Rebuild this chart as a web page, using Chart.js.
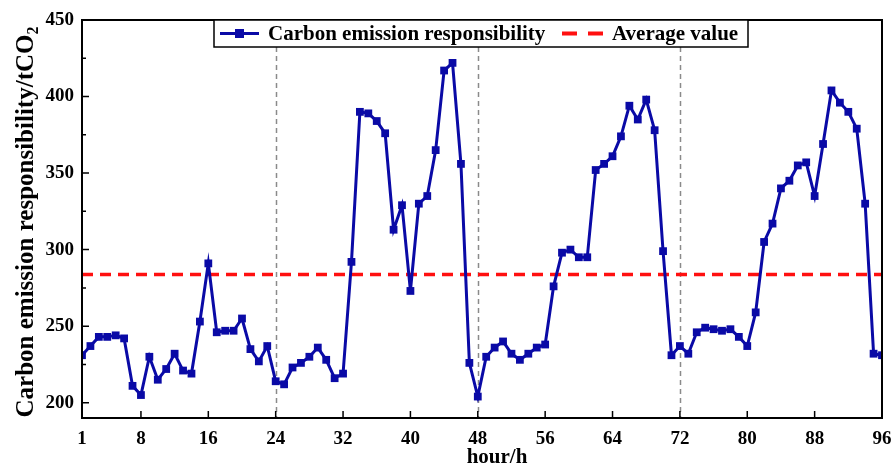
<!DOCTYPE html>
<html>
<head>
<meta charset="utf-8">
<script src="https://cdn.jsdelivr.net/npm/chart.js@4/dist/chart.umd.min.js"></script>
<style>
  html, body { margin: 0; padding: 0; background: #fff; }
  #wrap { width: 892px; height: 466px; position: relative; }
</style>
</head>
<body>
<div id="wrap"><canvas id="c"></canvas></div>
<script>
// hourly values (hour 1..96)
const hours = Array.from({ length: 96 }, (_, i) => i + 1);
const carbon = [
  231, 237, 243, 243, 244, 242, 211, 205, 230, 215,
  222, 232, 221, 219, 253, 291, 246, 247, 247, 255,
  235, 227, 237, 214, 212, 223, 226, 230, 236, 228,
  216, 219, 292, 390, 389, 384, 376, 313, 329, 273,
  330, 335, 365, 417, 422, 356, 226, 204, 230, 236,
  240, 232, 228, 232, 236, 238, 276, 298, 300, 295,
  295, 352, 356, 361, 374, 394, 385, 398, 378, 299,
  231, 237, 232, 246, 249, 248, 247, 248, 243, 237,
  259, 305, 317, 340, 345, 355, 357, 335, 369, 404,
  396, 390, 379, 330, 232, 231
];
const averageValue = [283.8];
const xTicks = [1, 8, 16, 24, 32, 40, 48, 56, 64, 72, 80, 88, 96];
const yTicks = [200, 250, 300, 350, 400, 450];
const yMinorTicks = [225, 275, 325, 375, 425];
const dayDividers = [24, 48, 72];

const BLUE = '#0a0aa6';
const RED = '#ff1010';
const SERIF = '"Liberation Serif", "Times New Roman", serif';

const carbonPts = hours.map((h, i) => ({ x: h, y: carbon[i] }));
const avgPts = [{ x: 1, y: averageValue[0] }, { x: 96, y: averageValue[0] }];

const decor = {
  id: 'decor',
  beforeDatasetsDraw(chart) {
    const { ctx, chartArea: a, scales: { x } } = chart;
    ctx.save();
    ctx.strokeStyle = '#8a8a8a';
    ctx.lineWidth = 1.5;
    ctx.setLineDash([5, 4]);
    dayDividers.forEach(d => {
      const px = Math.round(x.getPixelForValue(d)) + 0.5;
      ctx.beginPath();
      ctx.moveTo(px, a.top);
      ctx.lineTo(px, a.bottom);
      ctx.stroke();
    });
    ctx.restore();
  },
  afterDraw(chart) {
    const { ctx, chartArea: a, scales: { x, y } } = chart;
    ctx.save();
    // frame
    ctx.strokeStyle = '#000';
    ctx.lineWidth = 2;
    ctx.strokeRect(a.left, a.top, a.right - a.left, a.bottom - a.top);
    // inward ticks
    ctx.lineWidth = 1.5;
    ctx.beginPath();
    xTicks.forEach(t => {
      const px = x.getPixelForValue(t);
      ctx.moveTo(px, a.bottom); ctx.lineTo(px, a.bottom - 7);
    });
    yTicks.forEach(t => {
      const py = y.getPixelForValue(t);
      ctx.moveTo(a.left, py); ctx.lineTo(a.left + 7, py);
    });
    yMinorTicks.forEach(t => {
      const py = y.getPixelForValue(t);
      ctx.moveTo(a.left, py); ctx.lineTo(a.left + 4, py);
    });
    ctx.stroke();

    // legend
    const lx = 214, ly = 20, lw = 534, lh = 27, cy = ly + lh / 2;
    ctx.fillStyle = '#fff';
    ctx.fillRect(lx, ly, lw, lh);
    ctx.strokeStyle = '#000';
    ctx.lineWidth = 1.5;
    ctx.strokeRect(lx, ly, lw, lh);
    ctx.strokeStyle = BLUE;
    ctx.lineWidth = 3;
    ctx.beginPath(); ctx.moveTo(220, cy); ctx.lineTo(259, cy); ctx.stroke();
    ctx.fillStyle = BLUE;
    ctx.fillRect(235, cy - 4.5, 9, 9);
    ctx.strokeStyle = RED;
    ctx.lineWidth = 4;
    ctx.beginPath();
    ctx.moveTo(562, cy); ctx.lineTo(577, cy);
    ctx.moveTo(588, cy); ctx.lineTo(603, cy);
    ctx.stroke();
    ctx.fillStyle = '#000';
    ctx.font = 'bold 21px ' + SERIF;
    ctx.textBaseline = 'middle';
    ctx.textAlign = 'left';
    ctx.fillText('Carbon emission responsibility', 268, cy + 1);
    ctx.fillText('Average value', 612, cy + 1);

    // x title
    ctx.font = 'bold 21px ' + SERIF;
    ctx.textAlign = 'center';
    ctx.textBaseline = 'alphabetic';
    ctx.fillText('hour/h', 497, 463);

    // y title with subscript
    const main = 'Carbon emission responsibility/tCO';
    ctx.translate(33, 222);
    ctx.rotate(-Math.PI / 2);
    ctx.font = 'bold 25px ' + SERIF;
    const wMain = ctx.measureText(main).width;
    ctx.font = 'bold 16px ' + SERIF;
    const wSub = ctx.measureText('2').width;
    const start = -(wMain + wSub) / 2;
    ctx.textAlign = 'left';
    ctx.font = 'bold 25px ' + SERIF;
    ctx.fillText(main, start, 0);
    ctx.font = 'bold 16px ' + SERIF;
    ctx.fillText('2', start + wMain, 5);
    ctx.restore();
  }
};

new Chart(document.getElementById('c'), {
  type: 'line',
  data: {
    datasets: [
      {
        label: 'Carbon emission responsibility',
        data: carbonPts,
        borderColor: BLUE,
        backgroundColor: BLUE,
        borderWidth: 3,
        pointStyle: 'rect',
        pointRadius: 5.5,
        pointBorderWidth: 0,
        tension: 0
      },
      {
        label: 'Average value',
        data: avgPts,
        borderColor: RED,
        borderWidth: 3.5,
        borderDash: [11, 7],
        pointRadius: 0
      }
    ]
  },
  options: {
    responsive: true,
    maintainAspectRatio: false,
    animation: false,
    layout: { padding: { top: 20, right: 10, left: 0, bottom: 0 } },
    plugins: { legend: { display: false }, tooltip: { enabled: false } },
    scales: {
      x: {
        type: 'linear',
        min: 1, max: 96,
        afterBuildTicks: s => { s.ticks = xTicks.map(v => ({ value: v })); },
        afterFit: s => { s.height = 48; s.paddingRight = 0; s.paddingLeft = 0; },
        grid: { display: false, drawTicks: false },
        border: { display: false },
        ticks: { color: '#000', padding: 10, maxRotation: 0, font: { family: SERIF, size: 19, weight: 'bold' } }
      },
      y: {
        min: 190, max: 450,
        afterBuildTicks: s => { s.ticks = yTicks.map(v => ({ value: v })); },
        afterFit: s => { s.width = 82; s.paddingTop = 0; s.paddingBottom = 0; },
        grid: { display: false, drawTicks: false },
        border: { display: false },
        ticks: { color: '#000', padding: 8, font: { family: SERIF, size: 19, weight: 'bold' } }
      }
    }
  },
  plugins: [decor]
});
</script>
</body>
</html>
